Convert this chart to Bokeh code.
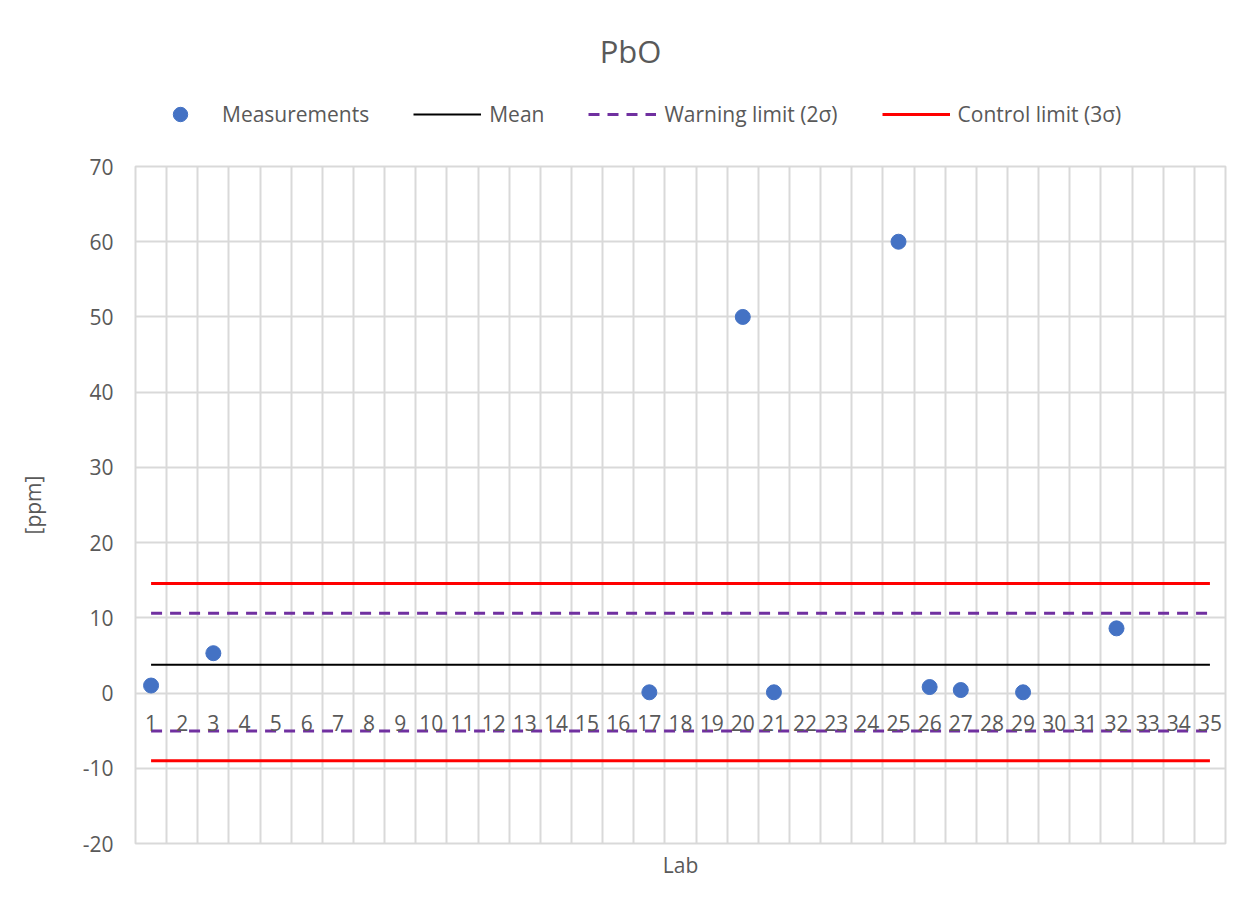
from bokeh.plotting import figure
from bokeh.layouts import column
from bokeh.models import Range1d, FixedTicker, Legend, LegendItem, Title, Label, ColumnDataSource
from bokeh.embed import file_html
from bokeh.resources import INLINE

# ---- data ----
labs = list(range(1, 36))
measured_labs = [1, 3, 17, 20, 21, 25, 26, 27, 29, 32]
measured_ppm = [1.0, 5.3, 0.1, 50.0, 0.1, 60.0, 0.8, 0.4, 0.1, 8.6]
mean_value = 3.75
warning_upper = 10.6
warning_lower = -5.05
control_upper = 14.55
control_lower = -9.0
y_ticks = [-20, -10, 0, 10, 20, 30, 40, 50, 60, 70]
chart_title = "PbO"
series_names = ["Measurements", "Mean", "Warning limit (2σ)", "Control limit (3σ)"]

FONT = "Open Sans"
TXT = "#595959"
GRID = "#d9d9d9"
BLUE = "#4472C4"
PURPLE = "#7030A0"
RED = "#FF0000"

W = 1253
HEAD_H = 150
MAIN_H = 909 - HEAD_H
LEFT = 135
RIGHT = 28

line_x = [labs[0], labs[-1]]

# ---------------- header: title + legend ----------------
head = figure(width=W, height=HEAD_H, output_backend="svg", toolbar_location=None,
              title=None, x_axis_type=None, y_axis_type=None,
              x_range=Range1d(LEFT, W - RIGHT), y_range=Range1d(0, HEAD_H),
              min_border_left=LEFT, min_border_right=RIGHT,
              min_border_top=0, min_border_bottom=0)
head.outline_line_color = None
head.grid.visible = False
head.background_fill_color = "white"
head.border_fill_color = "white"

head.add_layout(Label(x=630, y=HEAD_H - 50, text=chart_title, text_align="center",
                      text_baseline="middle", text_font=FONT, text_font_size="31px",
                      text_color=TXT))

nan = float("nan")
legend_src = ColumnDataSource(data=dict(x=[nan], y=[nan]))
h_meas = head.scatter("x", "y", source=legend_src, size=15, marker="circle",
                      fill_color=BLUE, line_color=BLUE)
h_mean = head.line("x", "y", source=legend_src, line_color="black", line_width=2)
h_warn = head.line("x", "y", source=legend_src, line_color=PURPLE, line_width=3,
                   line_dash="11 8")
h_ctrl = head.line("x", "y", source=legend_src, line_color=RED, line_width=3)

legend = Legend(items=[
    LegendItem(label=series_names[0], renderers=[h_meas]),
    LegendItem(label=series_names[1], renderers=[h_mean]),
    LegendItem(label=series_names[2], renderers=[h_warn]),
    LegendItem(label=series_names[3], renderers=[h_ctrl]),
], orientation="horizontal", location=(146 - LEFT, HEAD_H - 132), glyph_width=68,
    glyph_height=36, label_standoff=8, spacing=44, padding=0, margin=0,
    border_line_color=None, background_fill_alpha=0,
    label_text_font=FONT, label_text_font_size="21px", label_text_color=TXT)
head.add_layout(legend, "center")

# ---------------- main chart ----------------
p = figure(width=W, height=MAIN_H, output_backend="svg", toolbar_location=None,
           title=None, x_range=Range1d(0.5, 35.5), y_range=Range1d(-20, 70),
           min_border_left=LEFT, min_border_right=RIGHT, min_border_top=16,
           min_border_bottom=66)
p.outline_line_color = GRID
p.outline_line_width = 2
p.background_fill_color = "white"
p.border_fill_color = "white"

# grids
p.xgrid.ticker = FixedTicker(ticks=[i + 0.5 for i in range(0, 36)])
p.ygrid.ticker = FixedTicker(ticks=y_ticks)
for g in (p.xgrid, p.ygrid):
    g.grid_line_color = GRID
    g.grid_line_width = 2

# x axis at y = 0
xa = p.xaxis[0]
xa.fixed_location = 0
xa.ticker = FixedTicker(ticks=labs)
xa.axis_line_color = None
xa.major_tick_line_color = None
xa.minor_tick_line_color = None
xa.major_label_standoff = 16
xa.major_label_text_font = FONT
xa.major_label_text_font_size = "21px"
xa.major_label_text_color = TXT

# y axis
ya = p.yaxis[0]
ya.ticker = FixedTicker(ticks=y_ticks)
ya.major_label_overrides = {t: str(t) for t in y_ticks}
ya.axis_line_color = None
ya.major_tick_line_color = None
ya.minor_tick_line_color = None
ya.major_tick_out = 0
ya.major_label_standoff = 22
ya.major_label_text_font = FONT
ya.major_label_text_font_size = "21px"
ya.major_label_text_color = TXT
ya.axis_label = "[ppm]"
ya.axis_label_text_font = FONT
ya.axis_label_text_font_size = "21px"
ya.axis_label_text_font_style = "normal"
ya.axis_label_text_color = TXT
ya.axis_label_standoff = 33

# x axis title
p.add_layout(Title(text="Lab", align="center", text_font=FONT, text_font_size="21px",
                   text_font_style="normal", text_color=TXT, standoff=10), "below")

# lines
p.line(line_x, [mean_value, mean_value], line_color="black", line_width=2)
p.line(line_x, [warning_upper, warning_upper], line_color=PURPLE, line_width=3,
       line_dash="11 8")
p.line(line_x, [warning_lower, warning_lower], line_color=PURPLE, line_width=3,
       line_dash="11 8")
p.line(line_x, [control_upper, control_upper], line_color=RED, line_width=3)
p.line(line_x, [control_lower, control_lower], line_color=RED, line_width=3)

# measurements
p.scatter(measured_labs, measured_ppm, size=15, marker="circle",
          fill_color=BLUE, line_color=BLUE)

layout = column(head, p, spacing=0)
open("out.html", "w").write(file_html(layout, INLINE))
